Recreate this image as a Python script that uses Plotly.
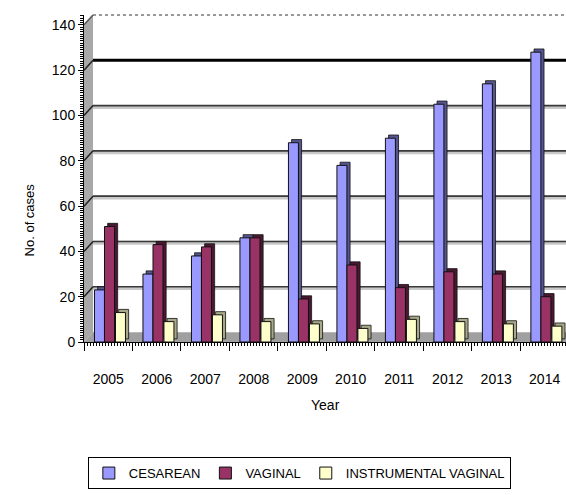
import plotly.graph_objects as go

years = ["2005", "2006", "2007", "2008", "2009", "2010", "2011", "2012", "2013", "2014"]
cesarean = [23, 30, 38, 46, 88, 78, 90, 105, 114, 128]
vaginal = [51, 43, 42, 46, 19, 34, 24, 31, 30, 20]
instrumental = [13, 9, 12, 9, 8, 6, 10, 9, 8, 7]
y_ticks = [0, 20, 40, 60, 80, 100, 120, 140]

series = [
    ("CESAREAN", cesarean, "#9999FF", "#55558f", -0.284),
    ("VAGINAL", vaginal, "#993366", "#4a1830", -0.077),
    ("INSTRUMENTAL VAGINAL", instrumental, "#FFFFCC", "#a8a888", 0.149),
]

FONT = "Liberation Sans, Arial, sans-serif"
BAR_W = 0.206
SIDE_DX = 0.065
TOP_DY = 1.4
DEPTH = 4.4      # back-wall offset in data units
WALL = 0.0187    # left wall width (paper)

x = list(range(len(years)))
fig = go.Figure()
for name, vals, col, dark, off in series:
    fig.add_trace(go.Bar(
        x=x, y=vals, base=[TOP_DY] * len(vals), width=[BAR_W] * len(vals),
        offset=off + SIDE_DX, marker=dict(color=dark, line=dict(color="#111", width=0.8)),
        showlegend=False, hoverinfo="skip"))
    fig.add_trace(go.Bar(
        x=x, y=vals, width=[BAR_W] * len(vals), offset=off, name=name,
        marker=dict(color=col, line=dict(color="#111", width=1))))

shapes = []
# left wall and floor
shapes.append(dict(type="path", xref="paper", yref="paper", layer="below",
                   path=f"M 0,0 L 0,0.97 L {WALL},1 L {WALL},0.03 Z",
                   fillcolor="#a8a8a8", line=dict(width=0)))
shapes.append(dict(type="path", xref="paper", yref="paper", layer="below",
                   path=f"M 0,0 L {WALL},0.03 L 1,0.03 L 1,0 Z",
                   fillcolor="#a0a0a0", line=dict(width=0)))
for v in y_ticks[1:]:
    if v == 140:
        shapes.append(dict(type="line", xref="paper", yref="paper", x0=WALL, x1=1, y0=1, y1=1,
                           line=dict(color="#999", width=2, dash="dot"), layer="below"))
        shapes.append(dict(type="line", xref="paper", yref="paper", x0=0, x1=WALL, y0=0.97, y1=1,
                           line=dict(color="#555", width=1.5), layer="below"))
        continue
    thick = v == 120
    if not thick:
        shapes.append(dict(type="line", xref="paper", yref="y", x0=WALL, x1=1,
                           y0=v + DEPTH - 0.6, y1=v + DEPTH - 0.6,
                           line=dict(color="#c8c8c8", width=4), layer="below"))
    shapes.append(dict(type="line", xref="paper", yref="y", x0=WALL, x1=1,
                       y0=v + DEPTH, y1=v + DEPTH,
                       line=dict(color="#000" if thick else "#3a3a3a", width=3 if thick else 1.6),
                       layer="below"))
    shapes.append(dict(type="line", xref="paper", yref="y", x0=0, x1=WALL,
                       y0=v, y1=v + DEPTH,
                       line=dict(color="#222", width=1.5), layer="below"))

fig.update_layout(
    width=566, height=495,
    margin=dict(l=84, r=0, t=15, b=153),
    paper_bgcolor="white", plot_bgcolor="white",
    barmode="overlay",
    font=dict(family=FONT, size=13, color="#000"),
    shapes=shapes,
    xaxis=dict(range=[-0.5, 9.44], tickmode="array", tickvals=x, ticktext=years,
               ticks="", showgrid=False, zeroline=False, showline=True,
               linecolor="#000", linewidth=1, ticklabelstandoff=24,
               tickfont=dict(size=14, family=FONT)),
    xaxis2=dict(overlaying="x", anchor="y", side="bottom", range=[-0.5, 9.44],
                tickmode="array", tickvals=[i - 0.5 for i in range(11)],
                ticks="outside", ticklen=8, tickcolor="#000", showticklabels=False,
                showgrid=False, zeroline=False,
                minor=dict(tickmode="linear", tick0=-0.5, dtick=0.0625, ticks="outside",
                           ticklen=3, tickcolor="#000", showgrid=False)),
    yaxis=dict(range=[0, 144.4], tickmode="array", tickvals=y_ticks,
               ticks="outside", ticklen=5, tickcolor="#000", showgrid=False,
               zeroline=False, showline=True, linecolor="#000", linewidth=1,
               tickfont=dict(size=14, family=FONT),
               minor=dict(tickmode="linear", tick0=0, dtick=1, ticks="outside",
                          ticklen=3, tickcolor="#000", showgrid=False)),
    legend=dict(orientation="h", x=0.008, y=-0.352, xanchor="left", yanchor="top",
                bordercolor="#000", borderwidth=1, font=dict(size=13, family=FONT),
                itemclick=False),
    annotations=[
        dict(text="Year", xref="paper", yref="paper", x=0.5, y=-0.193,
             showarrow=False, font=dict(size=14, family=FONT), yanchor="middle"),
        dict(text="No. of cases", xref="paper", yref="paper", x=-0.133, y=0.373,
             showarrow=False, textangle=-90, font=dict(size=13, family=FONT)),
    ],
)
fig.add_trace(go.Scatter(x=[None], y=[None], xaxis="x2", showlegend=False, hoverinfo="skip"))

fig.write_html("out.html")
